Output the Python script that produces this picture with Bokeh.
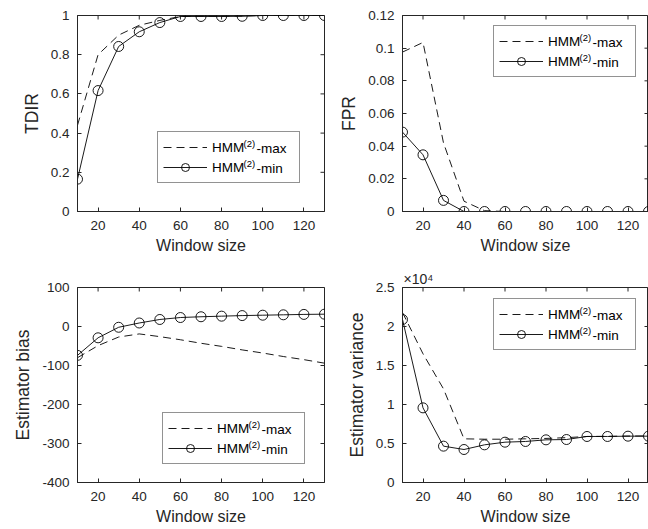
import math
from bokeh.plotting import figure
from bokeh.models import Range1d, FixedTicker, Legend, LegendItem, Label
from bokeh.layouts import column, row
from bokeh.embed import file_html
from bokeh.resources import INLINE

window = [10, 20, 30, 40, 50, 60, 70, 80, 90, 100, 110, 120, 130]

tdir_max = [0.44, 0.80, 0.90, 0.95, 0.975, 0.995, 0.997, 0.997, 0.998, 1.0, 1.0, 1.0, 1.0]
tdir_min = [0.165, 0.617, 0.842, 0.917, 0.964, 0.995, 0.995, 0.995, 0.996, 1.0, 1.0, 1.0, 1.0]

fpr_max = [0.0976, 0.1035, 0.042, 0.0063, 0.0005, 0, 0, 0, 0, 0, 0, 0, 0]
fpr_min = [0.0486, 0.0347, 0.0068, 0, 0, 0, 0, 0, 0, 0, 0, 0, 0]

bias_max = [-80, -49, -27, -19, -26, -34, -43, -51, -60, -68, -77, -85, -94]
bias_min = [-74, -29, -2, 9, 18, 23, 25, 26.5, 28, 29, 30, 31, 31.6]

var_max = [21800, 16500, 12000, 5600, 5550, 5550, 5600, 5650, 5750, 5900, 5920, 5950, 5970]
var_min = [20900, 9570, 4660, 4230, 4830, 5170, 5260, 5470, 5510, 5900, 5900, 5940, 5940]

x_range = (10, 130)
x_ticks = [20, 40, 60, 80, 100, 120]
tdir_range = (0, 1)
tdir_ticks = [0, 0.2, 0.4, 0.6, 0.8, 1.0]
tdir_labels = ["0", "0.2", "0.4", "0.6", "0.8", "1"]
fpr_range = (0, 0.12)
fpr_ticks = [0, 0.02, 0.04, 0.06, 0.08, 0.1, 0.12]
fpr_labels = ["0", "0.02", "0.04", "0.06", "0.08", "0.1", "0.12"]
bias_range = (-400, 100)
bias_ticks = [-400, -300, -200, -100, 0, 100]
bias_labels = ["-400", "-300", "-200", "-100", "0", "100"]
var_range = (0, 25000)
var_ticks = [0, 5000, 10000, 15000, 20000, 25000]
var_labels = ["0", "0.5", "1", "1.5", "2", "2.5"]
var_exponent = "\u00D710\u2074"

legend_base = "HMM"
legend_sup = "(2)"
legend_suffixes = ["-max", "-min"]

AX = "#262626"
FONT = "Liberation Sans"

PAD = 5
GLYPH_W = 44
STANDOFF = 5
ROW_H = 20
BASE_W = 31      # width of "HMM" at 13.5px
SUP_W = 12       # width of "(2)" at 9.5px


def make(width, height, ml, mr, mt, mb, yr, yticks, ylabels, ylabel, ymax, ymin, legloc):
    p = figure(width=width, height=height, output_backend="svg", toolbar_location=None,
               x_range=Range1d(*x_range), y_range=Range1d(*yr),
               min_border_left=ml, min_border_right=mr, min_border_top=mt, min_border_bottom=mb,
               background_fill_color="white", border_fill_color="white")
    p.grid.visible = False
    p.outline_line_color = AX
    p.outline_line_width = 1
    p.xaxis.ticker = FixedTicker(ticks=x_ticks)
    p.yaxis.ticker = FixedTicker(ticks=yticks)
    p.yaxis.major_label_overrides = {t: l for t, l in zip(yticks, ylabels)}
    p.xaxis.axis_label = "Window size"
    p.yaxis.axis_label = ylabel
    for ax in (p.xaxis[0], p.yaxis[0]):
        ax.major_tick_in = 4
        ax.major_tick_out = 0
        ax.minor_tick_in = 0
        ax.minor_tick_out = 0
        ax.axis_line_color = AX
        ax.major_tick_line_color = AX
        ax.major_label_text_font = FONT
        ax.major_label_text_font_size = "13.5px"
        ax.major_label_text_color = AX
        ax.axis_label_text_font = FONT
        ax.axis_label_text_font_style = "normal"
        ax.axis_label_text_color = AX
    p.xaxis.axis_label_text_font_size = "16px"
    p.yaxis.axis_label_text_font_size = "17.5px"
    p.xaxis.major_label_standoff = 9
    p.xaxis.axis_label_standoff = 4
    p.yaxis.major_label_standoff = 8
    p.yaxis.axis_label_standoff = 6

    # mirrored inward ticks on the top and right edges of the box
    p.scatter(x_ticks, [yr[1]] * len(x_ticks), marker="dash", size=8, angle=math.pi / 2,
              line_color=AX, line_width=1)
    p.scatter([x_range[1]] * len(yticks), yticks, marker="dash", size=8,
              line_color=AX, line_width=1)

    r1 = p.line(window, ymax, line_color="black", line_width=0.9, line_dash="8 5")
    r2 = p.line(window, ymin, line_color="black", line_width=0.9)
    r3 = p.scatter(window, ymin, marker="circle", size=10, fill_color=None,
                   line_color="black", line_width=0.9)
    leg = Legend(items=[LegendItem(label=legend_base, renderers=[r1]),
                        LegendItem(label=legend_base, renderers=[r2, r3])],
                 location=legloc, orientation="vertical",
                 border_line_color=AX, border_line_width=1,
                 background_fill_color="white", background_fill_alpha=0,
                 padding=PAD, spacing=0, margin=0, glyph_width=GLYPH_W, glyph_height=ROW_H,
                 label_height=ROW_H, label_width=82, label_standoff=STANDOFF,
                 label_text_font=FONT, label_text_font_size="13.5px", label_text_color="black")
    p.add_layout(leg, "center")

    # superscript and suffix of the legend entries
    lx, ly = legloc
    tx = lx + PAD + GLYPH_W + STANDOFF + BASE_W
    for i, suf in enumerate(legend_suffixes):
        cy = ly + PAD + ROW_H * (len(legend_suffixes) - i) - ROW_H / 2
        p.add_layout(Label(x=tx + 1, y=cy + 5, x_units="screen", y_units="screen",
                           text=legend_sup, text_baseline="middle", text_font=FONT,
                           text_font_size="9.5px", text_color="black", level="overlay"))
        p.add_layout(Label(x=tx + 2 + SUP_W, y=cy, x_units="screen", y_units="screen",
                           text=suf, text_baseline="middle", text_font=FONT,
                           text_font_size="13.5px", text_color="black", level="overlay"))
    return p


p1 = make(330, 264, 77, 6, 15, 53, tdir_range, tdir_ticks, tdir_labels, "TDIR",
          tdir_max, tdir_min, (80, 28))
p2 = make(318, 264, 72, 0, 15, 53, fpr_range, fpr_ticks, fpr_labels, "FPR",
          fpr_max, fpr_min, (91, 134))
p3 = make(330, 265, 77, 6, 23, 47, bias_range, bias_ticks, bias_labels, "Estimator bias",
          bias_max, bias_min, (85, 18))
p4 = make(318, 265, 72, 0, 23, 47, var_range, var_ticks, var_labels, "Estimator variance",
          var_max, var_min, (91, 132))

p4.title.text = var_exponent
p4.title.align = "left"
p4.title.offset = 1
p4.title.standoff = 2
p4.title.text_font = FONT
p4.title.text_font_size = "14px"
p4.title.text_font_style = "normal"
p4.title.text_color = AX

layout = column(row(p1, p2), row(p3, p4))
open("out.html", "w").write(file_html(layout, INLINE))
